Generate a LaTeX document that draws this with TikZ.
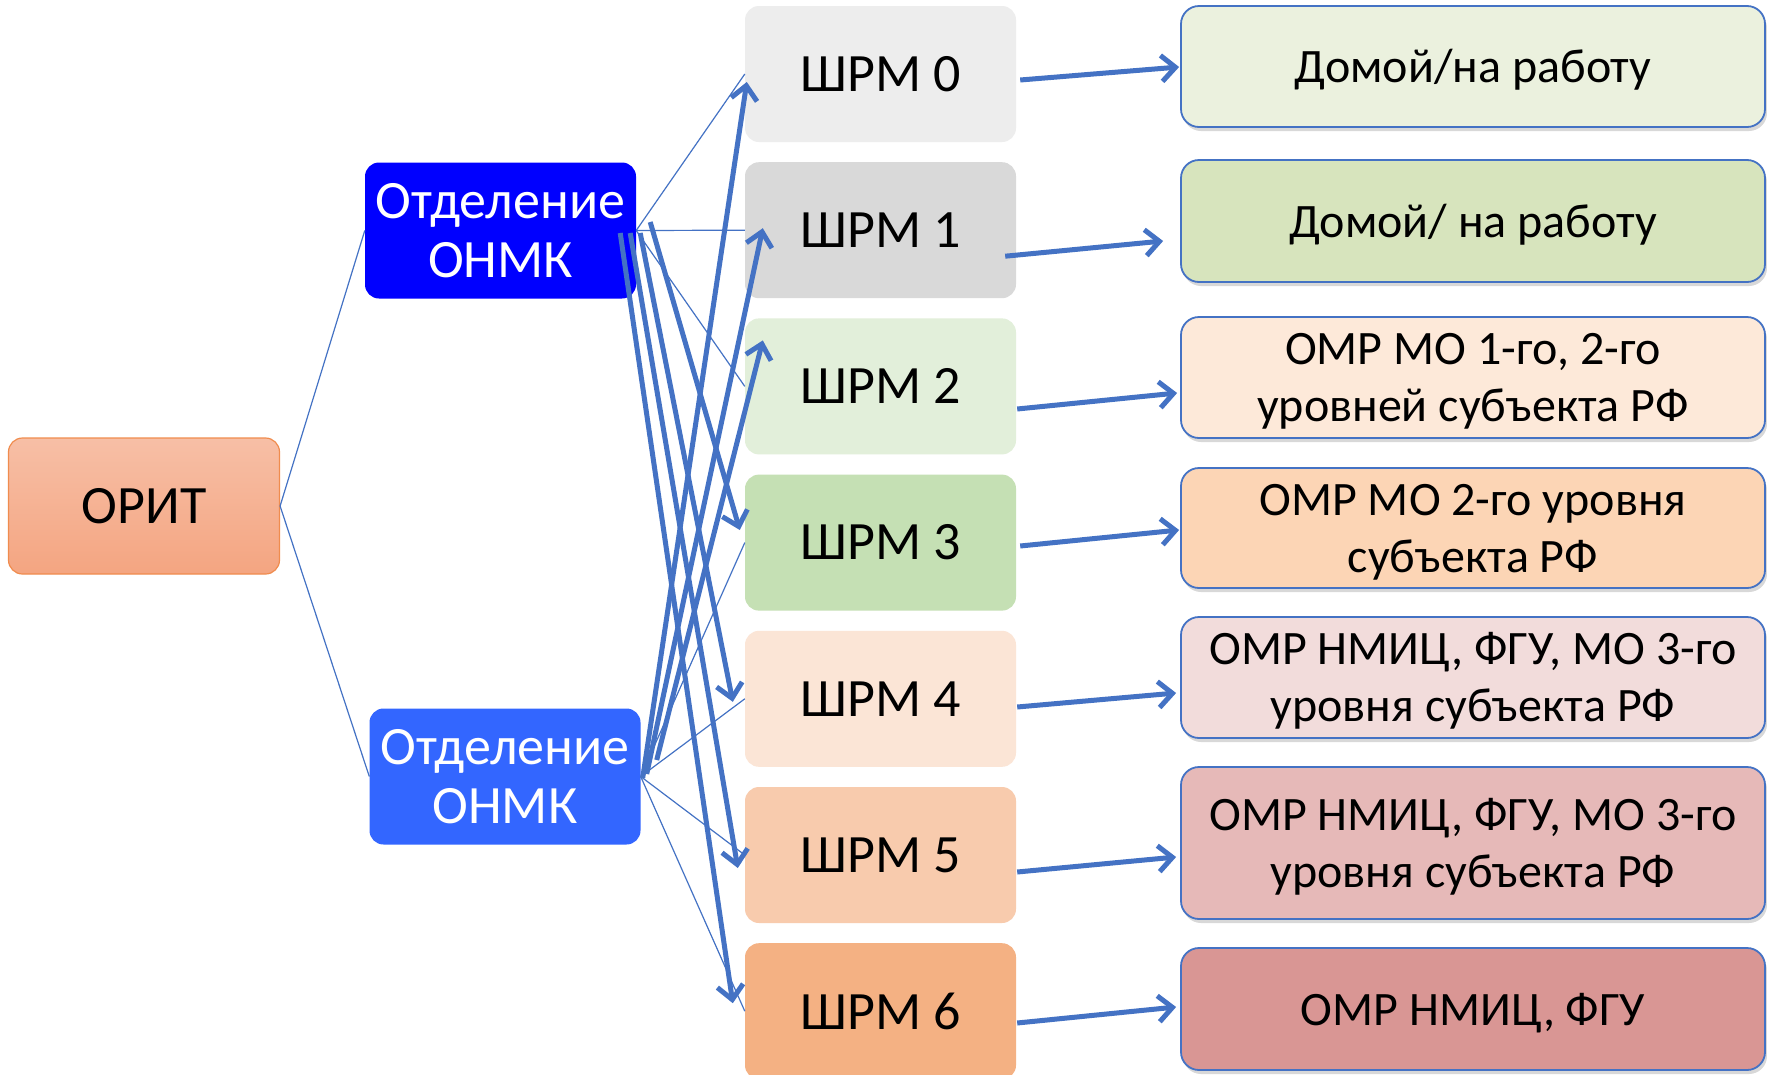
\documentclass[tikz,border=0pt]{standalone}
\usepackage{fontspec}
\setmainfont{Carlito}
\usetikzlibrary{arrows.meta,shadows}
\definecolor{linkblue}{HTML}{4472C4}
\definecolor{oritTop}{HTML}{F7BFA6}
\definecolor{oritBot}{HTML}{F4A581}
\definecolor{oritLine}{HTML}{F08C4E}
\definecolor{onmkA}{HTML}{0000FF}
\definecolor{onmkB}{HTML}{3366FF}
\definecolor{shrm0}{HTML}{EDEDED}
\definecolor{shrm1}{HTML}{D9D9D9}
\definecolor{shrm2}{HTML}{E2EFDA}
\definecolor{shrm3}{HTML}{C5E0B4}
\definecolor{shrm4}{HTML}{FBE5D6}
\definecolor{shrm5}{HTML}{F8CBAD}
\definecolor{shrm6}{HTML}{F4B183}
\definecolor{omr0}{HTML}{EBF1DE}
\definecolor{omr1}{HTML}{D7E4BD}
\definecolor{omr2}{HTML}{FDE9D9}
\definecolor{omr3}{HTML}{FCD5B5}
\definecolor{omr4}{HTML}{F2DCDB}
\definecolor{omr5}{HTML}{E6B9B8}
\definecolor{omr6}{HTML}{D99694}

\begin{document}
\begin{tikzpicture}[x=1pt,y=-1pt,
    basebox/.style={rounded corners=14pt,minimum width=271pt,minimum height=136pt,
        inner sep=0pt,align=center,font=\fontsize{54}{59}\selectfont},
    shrmbox/.style={basebox,fill=#1},
    onmkbox/.style={basebox,fill=#1,text=white},
    omrbox/.style={rounded corners=18pt,draw=linkblue,line width=1.8pt,fill=#1,
        minimum width=584pt,inner sep=0pt,align=center,font=\fontsize{48}{57}\selectfont,
        drop shadow={shadow xshift=2pt,shadow yshift=-4pt,opacity=0.3}},
    oneline/.style={text height=32pt,text depth=0pt},
    twoline/.style={text height=88pt,text depth=0pt},
    link/.style={linkblue,line width=1.2pt},
    fat/.style={linkblue,line width=5pt,-{Straight Barb[length=14pt,width=26pt]}}]
    \useasboundingbox[fill=white] (0,0) rectangle (1767,1074);

    \node[basebox,draw=oritLine,line width=1.2pt,top color=oritTop,bottom color=oritBot] (orit) at (144,506) {ОРИТ};
    \node[onmkbox=onmkA] (onmkA) at (500.5,230.5) {Отделение\\ОНМК};
    \node[onmkbox=onmkB] (onmkB) at (505,776.5) {Отделение\\ОНМК};

    \foreach \i in {0,...,6}
        \node[shrmbox=shrm\i] (s\i) at (880.5,{74+156.2*\i}) {ШРМ \i};

    \node[omrbox=omr0,oneline,minimum height=121pt] (r0) at (1473,66.5) {Домой/на работу};
    \node[omrbox=omr1,oneline,minimum height=122pt] (r1) at (1473,221) {Домой/ на работу};
    \node[omrbox=omr2,twoline,minimum height=121pt] (r2) at (1473,377.5) {ОМР МО 1-го, 2-го\\уровней субъекта РФ};
    \node[omrbox=omr3,twoline,minimum height=120pt] (r3) at (1473,528) {ОМР МО 2-го уровня\\субъекта РФ};
    \node[omrbox=omr4,twoline,minimum height=121pt] (r4) at (1473,677.5) {ОМР НМИЦ, ФГУ, МО 3-го\\уровня субъекта РФ};
    \node[omrbox=omr5,twoline,minimum height=152pt] (r5) at (1473,843) {ОМР НМИЦ, ФГУ, МО 3-го\\уровня субъекта РФ};
    \node[omrbox=omr6,oneline,minimum height=122pt] (r6) at (1473,1009) {ОМР НМИЦ, ФГУ};

    % tree
    \draw[link] (orit.east) -- (onmkA.west);
    \draw[link] (orit.east) -- (onmkB.west);
    \foreach \i in {0,1,2}
        \draw[link] (onmkA.east) -- (s\i.west);
    \foreach \i in {3,...,6}
        \draw[link] (onmkB.east) -- (s\i.west);

    % routing
    \foreach \i/\a/\b/\c/\d in {0/4/6/-1/0.5,1/-11/26/-17/20,2/1/22.6/-3/15.5,3/4/3.4/-1/2,
        4/1/8.2/-4/15.5,5/1/17/-4/14,6/1/11.8/-4/-2}
        \draw[fat] ([shift={(\a,\b)}]s\i.east) -- ([shift={(\c,\d)}]r\i.west);
    \foreach \i/\a/\b/\c/\d in {3/14/-8.5/-5/-12.6,4/4/2.5/-12/3,5/-6/2.5/-7/13,6/-16/2.5/-12/-8}
        \draw[fat] ([shift={(\a,\b)}]onmkA.east) -- ([shift={(\c,\d)}]s\i.west);
    \foreach \i/\a/\b/\c/\d in {0/2/1.5/2/8,1/6/-2.5/18/-2,2/16/-16.5/18/-46}
        \draw[fat] ([shift={(\a,\b)}]onmkB.east) -- ([shift={(\c,\d)}]s\i.west);
\end{tikzpicture}
\end{document}
